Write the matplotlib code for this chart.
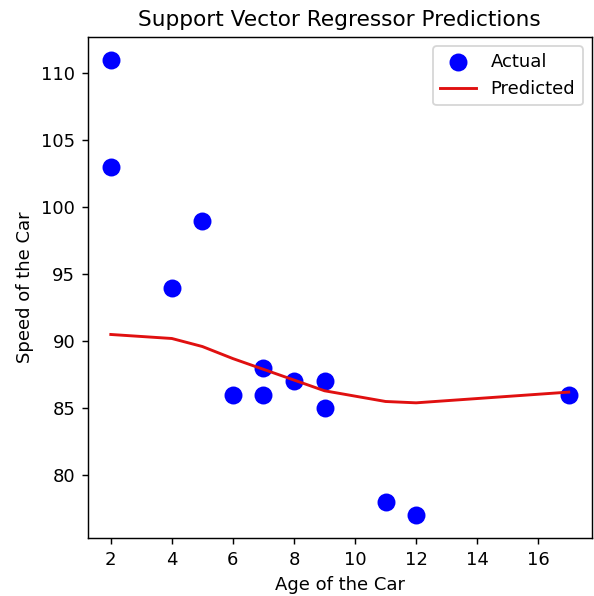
import numpy as np
import matplotlib.pyplot as plt

# age / speed of the cars
age = [5, 7, 8, 7, 2, 17, 2, 9, 4, 11, 12, 9, 6]
speed = [99, 86, 87, 88, 111, 86, 103, 87, 94, 78, 77, 85, 86]

# model output at the sorted ages
age_sorted = [2, 4, 5, 6, 7, 8, 9, 11, 12, 17]
speed_pred = [90.5, 90.2, 89.6, 88.7, 87.9, 87.1, 86.3, 85.5, 85.4, 86.2]

fig = plt.figure(figsize=(594 / 130, 596 / 130), dpi=130)
ax = fig.add_axes([0.148, 0.097, 0.848, 0.841])

ax.scatter(age, speed, color='blue', s=80, label='Actual', zorder=3)
ax.plot(age_sorted, speed_pred, color='#e01010', linewidth=1.6, label='Predicted', zorder=4)

ax.set_xlabel('Age of the Car')
ax.set_ylabel('Speed of the Car')
ax.set_title('Support Vector Regressor Predictions')
ax.legend()

plt.savefig('out.png', dpi=130)
